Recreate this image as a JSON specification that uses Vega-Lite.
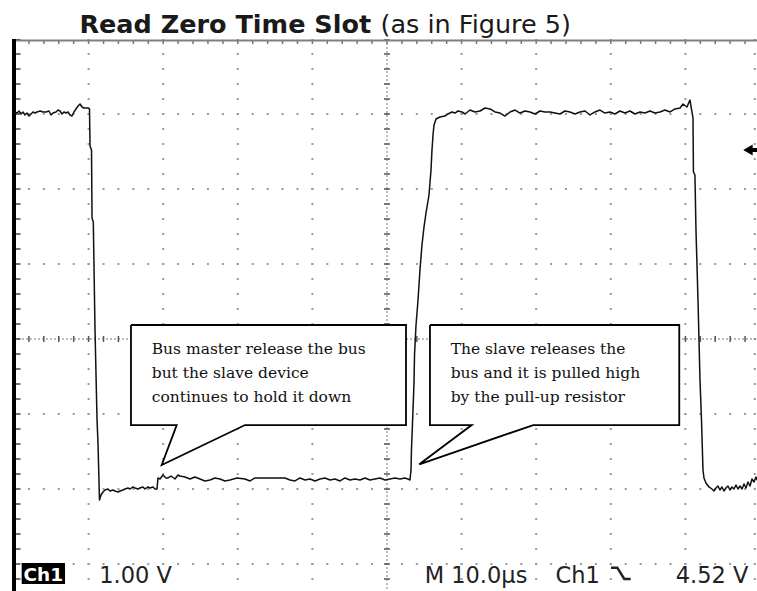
{
  "$schema": "https://vega.github.io/schema/vega-lite/v6.json",
  "width": 743,
  "height": 552,
  "autosize": "none",
  "padding": {"left": 14, "top": 39, "right": 0, "bottom": 0},
  "background": "white",
  "config": {"view": {"stroke": null}},
  "datasets": {
    "wave": [
      {"t":0,"v":5.027},{"t":0.40,"v":5.013},{"t":0.67,"v":5.04},{"t":0.94,"v":5.0},{"t":1.21,"v":5.027},{"t":1.47,"v":4.987},{"t":1.74,"v":5.013},{"t":2.01,"v":4.973},{"t":2.28,"v":5.0},{"t":2.55,"v":5.027},{"t":2.82,"v":5.013},{"t":3.08,"v":5.027},{"t":3.49,"v":5.04},{"t":3.89,"v":5.027},{"t":4.29,"v":5.027},{"t":4.69,"v":5.04},{"t":4.96,"v":4.987},{"t":5.23,"v":5.013},{"t":5.63,"v":5.027},{"t":5.90,"v":5.053},{"t":6.17,"v":5.04},{"t":6.43,"v":5.0},{"t":6.70,"v":5.027},{"t":6.97,"v":5.013},{"t":7.24,"v":5.027},{"t":7.51,"v":4.987},{"t":7.77,"v":4.973},{"t":8.04,"v":5.027},{"t":8.31,"v":5.067},{"t":8.58,"v":5.107},{"t":8.85,"v":5.133},{"t":9.12,"v":5.093},{"t":9.38,"v":5.08},{"t":9.92,"v":5.08},{"t":10.12,"v":5.067},
      {"t":10.19,"v":4.573},{"t":10.39,"v":4.52},{"t":10.46,"v":3.613},{"t":10.63,"v":3.56},{"t":10.86,"v":2.12},{"t":11.13,"v":0.92},{"t":11.26,"v":0.613},{"t":11.46,"v":-0.147},{"t":11.66,"v":-0.08},{"t":11.93,"v":-0.04},
      {"t":12.20,"v":-0.013},{"t":12.60,"v":0.0},{"t":12.87,"v":-0.027},{"t":13.27,"v":-0.013},{"t":13.54,"v":-0.027},{"t":13.94,"v":-0.04},{"t":14.21,"v":-0.027},{"t":14.61,"v":-0.013},{"t":14.88,"v":0.0},{"t":15.28,"v":0.013},{"t":15.55,"v":0.0},{"t":15.95,"v":0.027},{"t":16.22,"v":0.013},{"t":16.62,"v":0.0},{"t":16.89,"v":0.013},{"t":17.29,"v":0.027},{"t":17.56,"v":0.0},{"t":17.96,"v":0.027},{"t":18.23,"v":0.013},{"t":18.63,"v":0.027},{"t":18.90,"v":0.0},{"t":19.17,"v":0.0},{"t":19.30,"v":0.147},
      {"t":19.57,"v":0.133},{"t":19.97,"v":0.187},{"t":20.37,"v":0.147},{"t":20.64,"v":0.147},{"t":21.05,"v":0.173},{"t":21.58,"v":0.133},{"t":21.98,"v":0.187},{"t":22.25,"v":0.173},{"t":22.92,"v":0.16},{"t":23.59,"v":0.133},{"t":24.26,"v":0.16},{"t":24.93,"v":0.133},{"t":25.60,"v":0.107},{"t":26.27,"v":0.12},{"t":26.94,"v":0.147},{"t":27.61,"v":0.133},{"t":28.28,"v":0.107},{"t":28.95,"v":0.12},{"t":29.89,"v":0.147},{"t":30.97,"v":0.133},{"t":31.64,"v":0.107},{"t":32.31,"v":0.147},{"t":32.98,"v":0.147},{"t":34.32,"v":0.147},{"t":36.33,"v":0.147},{"t":37.00,"v":0.12},{"t":37.67,"v":0.107},{"t":38.34,"v":0.147},{"t":39.01,"v":0.12},{"t":39.68,"v":0.133},{"t":40.35,"v":0.107},{"t":41.02,"v":0.133},{"t":41.69,"v":0.147},{"t":42.36,"v":0.12},{"t":43.03,"v":0.133},{"t":43.70,"v":0.107},{"t":44.37,"v":0.147},{"t":45.04,"v":0.12},{"t":45.71,"v":0.133},{"t":46.38,"v":0.12},{"t":47.05,"v":0.147},{"t":47.72,"v":0.12},{"t":48.39,"v":0.133},{"t":49.06,"v":0.147},{"t":49.73,"v":0.12},{"t":50.40,"v":0.133},{"t":51.07,"v":0.147},{"t":51.74,"v":0.133},{"t":52.41,"v":0.147},{"t":52.81,"v":0.133},
      {"t":53.08,"v":0.12},{"t":53.22,"v":0.253},{"t":53.28,"v":0.52},{"t":53.42,"v":0.88},{"t":53.62,"v":1.413},{"t":53.69,"v":1.787},{"t":53.89,"v":2.187},{"t":54.16,"v":2.52},{"t":54.42,"v":2.92},{"t":54.69,"v":3.253},{"t":54.96,"v":3.493},{"t":55.23,"v":3.68},{"t":55.63,"v":3.92},{"t":55.90,"v":4.253},{"t":56.03,"v":4.52},{"t":56.17,"v":4.72},{"t":56.30,"v":4.853},{"t":56.57,"v":4.933},{"t":57.10,"v":4.96},{"t":57.77,"v":4.973},{"t":58.17,"v":5.0},
      {"t":58.71,"v":5.027},{"t":59.11,"v":5.013},{"t":59.52,"v":5.04},{"t":60.05,"v":5.027},{"t":60.46,"v":5.0},{"t":61.13,"v":5.053},{"t":61.80,"v":5.027},{"t":62.47,"v":5.04},{"t":63.14,"v":5.08},{"t":63.81,"v":5.067},{"t":64.48,"v":5.027},{"t":65.15,"v":5.013},{"t":65.82,"v":4.973},{"t":66.49,"v":5.027},{"t":67.16,"v":5.053},{"t":67.83,"v":5.013},{"t":68.50,"v":5.04},{"t":69.17,"v":5.027},{"t":69.84,"v":5.0},{"t":70.51,"v":5.04},{"t":71.18,"v":5.027},{"t":71.85,"v":5.027},{"t":72.52,"v":5.013},{"t":73.19,"v":5.0},{"t":73.86,"v":5.04},{"t":74.53,"v":5.027},{"t":75.20,"v":5.0},{"t":75.87,"v":5.027},{"t":76.54,"v":5.04},{"t":77.21,"v":4.987},{"t":77.88,"v":5.027},{"t":78.55,"v":5.053},{"t":79.22,"v":5.013},{"t":79.89,"v":5.027},{"t":80.56,"v":5.0},{"t":81.23,"v":5.04},{"t":81.90,"v":5.013},{"t":82.57,"v":5.04},{"t":83.24,"v":5.0},{"t":83.91,"v":5.027},{"t":84.58,"v":5.013},{"t":85.25,"v":5.04},{"t":85.92,"v":5.013},{"t":86.59,"v":5.027},{"t":87.26,"v":5.053},{"t":87.94,"v":5.027},{"t":88.61,"v":5.067},{"t":89.28,"v":5.08},{"t":89.68,"v":5.133},{"t":90.21,"v":5.093},{"t":90.61,"v":5.187},{"t":90.88,"v":5.027},
      {"t":91.02,"v":4.947},{"t":91.08,"v":4.227},{"t":91.28,"v":4.187},{"t":91.42,"v":3.453},{"t":91.69,"v":2.52},{"t":91.96,"v":1.453},{"t":92.16,"v":0.92},{"t":92.36,"v":0.253},{"t":92.49,"v":0.147},{"t":92.76,"v":0.08},{"t":93.16,"v":0.027},
      {"t":93.56,"v":0.0},{"t":93.83,"v":-0.027},{"t":94.10,"v":0.013},{"t":94.37,"v":0.04},{"t":94.63,"v":-0.013},{"t":94.90,"v":0.027},{"t":95.17,"v":-0.027},{"t":95.44,"v":0.013},{"t":95.71,"v":0.04},{"t":95.98,"v":-0.013},{"t":96.24,"v":0.027},{"t":96.51,"v":0.0},{"t":96.78,"v":0.053},{"t":97.05,"v":0.0},{"t":97.32,"v":0.04},{"t":97.59,"v":0.0},{"t":97.86,"v":0.067},{"t":98.12,"v":0.013},{"t":98.39,"v":0.093},{"t":98.66,"v":0.04},{"t":98.93,"v":0.133},{"t":99.20,"v":0.093},{"t":99.46,"v":0.16},{"t":99.60,"v":0.12}
    ],
    "vgrid": [
      {"t":10,"v":6,"v2":-1.36},{"t":20,"v":6,"v2":-1.36},{"t":30,"v":6,"v2":-1.36},{"t":40,"v":6,"v2":-1.36},
      {"t":60,"v":6,"v2":-1.36},{"t":70,"v":6,"v2":-1.36},{"t":80,"v":6,"v2":-1.36},{"t":90,"v":6,"v2":-1.36},{"t":99.3,"v":6,"v2":-1.36}
    ],
    "hgrid": [
      {"t":0,"t2":99.6,"v":5},{"t":0,"t2":99.6,"v":4},{"t":0,"t2":99.6,"v":3},
      {"t":0,"t2":99.6,"v":1},{"t":0,"t2":99.6,"v":0},{"t":0,"t2":99.6,"v":-1}
    ],
    "vlines": [
      {"t": 0, "v": 6, "v2": -1.36, "role": "edge"},
      {"t": 50, "v": 6, "v2": -1.36, "role": "center"}
    ],
    "hlines": [
      {"t": 0, "t2": 99.6, "v": 6, "role": "edge"},
      {"t": 0, "t2": 99.6, "v": 2, "role": "center"}
    ],
    "boxes": [
      {"box":1,"i":0,"t":15.68,"v":2.187},{"box":1,"i":1,"t":52.55,"v":2.187},{"box":1,"i":2,"t":52.55,"v":0.853},{"box":1,"i":3,"t":30.97,"v":0.853},{"box":1,"i":4,"t":19.80,"v":0.32},{"box":1,"i":5,"t":21.81,"v":0.853},{"box":1,"i":6,"t":15.68,"v":0.853},{"box":1,"i":7,"t":15.68,"v":2.187},
      {"box":2,"i":0,"t":55.76,"v":2.187},{"box":2,"i":1,"t":89.18,"v":2.187},{"box":2,"i":2,"t":89.18,"v":0.853},{"box":2,"i":3,"t":69.61,"v":0.853},{"box":2,"i":4,"t":54.33,"v":0.329},{"box":2,"i":5,"t":61.35,"v":0.853},{"box":2,"i":6,"t":55.76,"v":0.853},{"box":2,"i":7,"t":55.76,"v":2.187}
    ],
    "notes": [
      {"t":18.46,"v":1.80,"text":"Bus master release the bus"},
      {"t":18.46,"v":1.48,"text":"but the slave device"},
      {"t":18.46,"v":1.164,"text":"continues to hold it down"},
      {"t":58.54,"v":1.80,"text":"The slave releases the"},
      {"t":58.54,"v":1.48,"text":"bus and it is pulled high"},
      {"t":58.54,"v":1.164,"text":"by the pull-up resistor"}
    ],
    "readout": [
      {"t":11.42,"v":-1.253,"text":"1.00 V"},
      {"t":55.05,"v":-1.253,"text":"M 10.0µs"},
      {"t":72.6,"v":-1.253,"text":"Ch1"},
      {"t":88.71,"v":-1.253,"text":"4.52 V"}
    ],
    "trig": [
      {"i":0,"t":80.03,"v":-1.049},{"i":1,"t":80.87,"v":-1.049},{"i":2,"t":81.81,"v":-1.2},{"i":3,"t":82.67,"v":-1.2}
    ],
    "chbox": [{"t":1.03,"t2":6.84,"v":-0.987,"v2":-1.267}],
    "chlabel": [{"t":3.93,"v":-1.227,"text":"Ch1"}],
    "level": [{"t":98.39,"t2":99.6,"v":4.52}],
    "title1": [{"t":8.77,"v":6.076,"text":"Read Zero Time Slot"}],
    "title2": [{"t":49.13,"v":6.076,"text":"(as in Figure 5)"}]
  },
  "encoding": {
    "x": {"field": "t", "type": "quantitative", "scale": {"domain": [0, 99.6], "nice": false, "zero": false}, "axis": null},
    "y": {"field": "v", "type": "quantitative", "scale": {"domain": [-1.36, 6], "nice": false, "zero": false}, "axis": null}
  },
  "layer": [
    {
      "data": {"name": "vgrid"},
      "mark": {"type": "rule", "color": "#9a9a9a", "strokeWidth": 2, "strokeDash": [2, 13], "strokeDashOffset": 1},
      "encoding": {"y2": {"field": "v2"}}
    },
    {
      "data": {"name": "hgrid"},
      "mark": {"type": "rule", "color": "#9a9a9a", "strokeWidth": 2, "strokeDash": [2, 12.92], "strokeDashOffset": 1},
      "encoding": {"x2": {"field": "t2"}}
    },
    {
      "data": {"name": "vlines"},
      "transform": [{"filter": "datum.role === 'center'"}],
      "mark": {"type": "rule", "color": "#777", "strokeWidth": 1, "strokeDash": [2, 2]},
      "encoding": {"y2": {"field": "v2"}}
    },
    {
      "data": {"name": "vlines"},
      "transform": [{"filter": "datum.role === 'center'"}],
      "mark": {"type": "rule", "color": "#555", "strokeWidth": 6, "strokeDash": [1.5, 13.5], "strokeDashOffset": 0.75},
      "encoding": {"y2": {"field": "v2"}}
    },
    {
      "data": {"name": "hlines"},
      "transform": [{"filter": "datum.role === 'center'"}],
      "mark": {"type": "rule", "color": "#777", "strokeWidth": 1, "strokeDash": [2, 2]},
      "encoding": {"x2": {"field": "t2"}}
    },
    {
      "data": {"name": "hlines"},
      "transform": [{"filter": "datum.role === 'center'"}],
      "mark": {"type": "rule", "color": "#555", "strokeWidth": 6, "strokeDash": [1.5, 13.42], "strokeDashOffset": 0.75},
      "encoding": {"x2": {"field": "t2"}}
    },
    {
      "data": {"name": "hlines"},
      "transform": [{"filter": "datum.role === 'edge'"}],
      "mark": {"type": "rule", "color": "#808080", "strokeWidth": 2, "yOffset": 1.5},
      "encoding": {"x2": {"field": "t2"}}
    },
    {
      "data": {"name": "hlines"},
      "transform": [{"filter": "datum.role === 'edge'"}],
      "mark": {"type": "rule", "color": "#777", "strokeWidth": 3, "yOffset": 3.5, "strokeDash": [1.5, 13.42], "strokeDashOffset": 0.75},
      "encoding": {"x2": {"field": "t2"}}
    },
    {
      "data": {"name": "vlines"},
      "transform": [{"filter": "datum.role === 'edge'"}],
      "mark": {"type": "rule", "color": "#444", "strokeWidth": 6, "xOffset": 3.5, "strokeDash": [1.5, 13.5], "strokeDashOffset": 0.75},
      "encoding": {"y2": {"field": "v2"}}
    },
    {
      "data": {"name": "vlines"},
      "transform": [{"filter": "datum.role === 'edge'"}],
      "mark": {"type": "rule", "color": "#000", "strokeWidth": 4},
      "encoding": {"y2": {"field": "v2"}}
    },
    {
      "data": {"name": "wave"},
      "mark": {"type": "line", "color": "#111", "strokeWidth": 1.5, "strokeJoin": "round"}
    },
    {
      "data": {"name": "boxes"},
      "mark": {"type": "line", "fill": "white", "stroke": "black", "strokeWidth": 1.8, "strokeJoin": "miter"},
      "encoding": {"detail": {"field": "box"}, "order": {"field": "i"}}
    },
    {
      "data": {"name": "notes"},
      "mark": {"type": "text", "font": "DejaVu Serif", "fontSize": 15.5, "align": "left", "baseline": "alphabetic", "color": "#111"},
      "encoding": {"text": {"field": "text"}}
    },
    {
      "data": {"name": "chbox"},
      "mark": {"type": "rect", "color": "#000"},
      "encoding": {"x2": {"field": "t2"}, "y2": {"field": "v2"}}
    },
    {
      "data": {"name": "chlabel"},
      "mark": {"type": "text", "font": "DejaVu Sans", "fontWeight": "bold", "fontSize": 18.5, "align": "center", "baseline": "alphabetic", "color": "white"},
      "encoding": {"text": {"field": "text"}}
    },
    {
      "data": {"name": "readout"},
      "mark": {"type": "text", "font": "DejaVu Sans", "fontSize": 22.5, "align": "left", "baseline": "alphabetic", "color": "#222"},
      "encoding": {"text": {"field": "text"}}
    },
    {
      "data": {"name": "trig"},
      "mark": {"type": "line", "color": "#222", "strokeWidth": 2.5, "strokeJoin": "miter"},
      "encoding": {"order": {"field": "i"}}
    },
    {
      "data": {"name": "level"},
      "mark": {"type": "rule", "color": "#000", "strokeWidth": 4},
      "encoding": {"x2": {"field": "t2"}}
    },
    {
      "data": {"name": "level"},
      "mark": {"type": "point", "shape": "triangle-left", "size": 120, "filled": true, "color": "#000", "opacity": 1}
    },
    {
      "data": {"name": "title1"},
      "mark": {"type": "text", "font": "DejaVu Sans", "fontWeight": "bold", "fontSize": 25.5, "align": "left", "baseline": "alphabetic", "color": "#1a1a1a"},
      "encoding": {"text": {"field": "text"}}
    },
    {
      "data": {"name": "title2"},
      "mark": {"type": "text", "font": "DejaVu Sans", "fontSize": 25.5, "align": "left", "baseline": "alphabetic", "color": "#1a1a1a"},
      "encoding": {"text": {"field": "text"}}
    }
  ]
}
